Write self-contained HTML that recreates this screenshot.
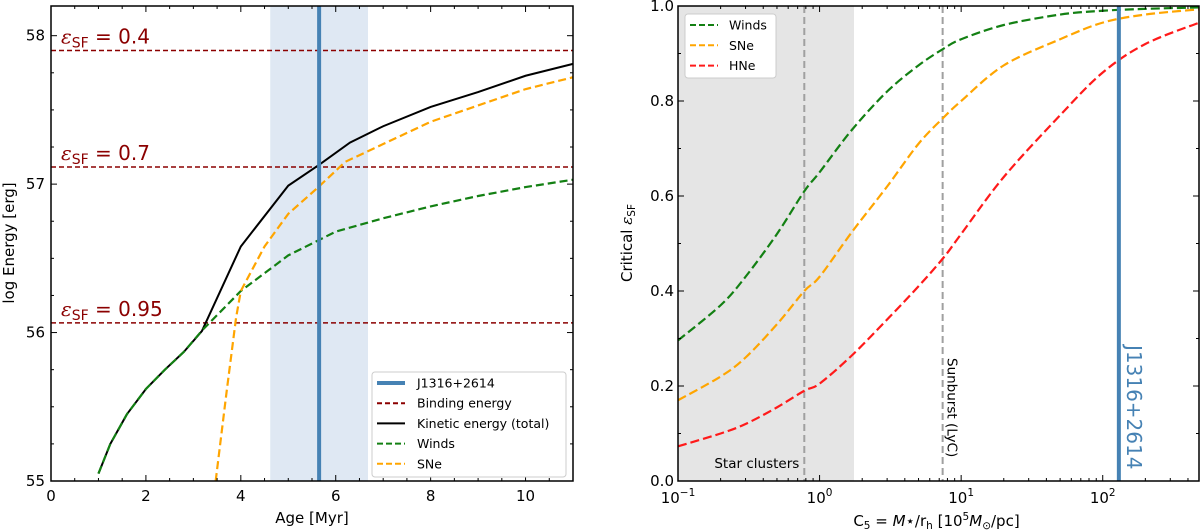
<!DOCTYPE html>
<html><head><meta charset="utf-8"><style>
html,body{margin:0;padding:0;background:#fff;}
svg{display:block;font-family:"DejaVu Sans","Liberation Sans",sans-serif;}
</style></head><body>
<svg id="fig" width="1200" height="532" viewBox="0 0 1200 532" xmlns="http://www.w3.org/2000/svg"></svg>
<script>
// ---- Left panel data ----
const ageWinds = [1,1.25,1.6,2,2.4,2.8,3.2,4,5,6,7,8,9,10,11];
const eWinds = [55.05,55.25,55.45,55.62,55.75,55.87,56.02,56.28,56.52,56.68,56.77,56.85,56.92,56.98,57.03];
const ageKin = [1,1.25,1.6,2,2.4,2.8,3.18,4,5,5.65,6.3,7,8,9,10,11];
const eKin = [55.05,55.25,55.45,55.62,55.75,55.87,56.01,56.58,56.99,57.13,57.28,57.39,57.52,57.62,57.73,57.81];
const ageSNe = [3.47,3.7,3.9,4,4.5,5,5.6,6.2,7,8,9,10,11];
const eSNe = [55.0,55.6,56.1,56.28,56.58,56.8,56.97,57.15,57.27,57.42,57.53,57.64,57.72];
const bindE = [57.90,57.115,56.065];
const bindLabels = ["0.4","0.7","0.95"];
const ageObs = 5.65;
const ageBand = [4.62,6.68];
const xTicksL = [0,2,4,6,8,10];
const yTicksL = [55,56,57,58];
// ---- Right panel data ----
const c5 = [0.1,0.2,0.3,0.5,0.78,1,1.7,3,5,7.5,10,20,50,100,200,480];
const critWinds = [0.296,0.37,0.43,0.52,0.61,0.65,0.74,0.82,0.875,0.91,0.93,0.96,0.982,0.99,0.994,0.997];
const critSNe = [0.17,0.22,0.26,0.33,0.40,0.43,0.525,0.62,0.71,0.765,0.80,0.875,0.93,0.965,0.982,0.993];
const critHNe = [0.073,0.10,0.12,0.155,0.19,0.205,0.265,0.34,0.41,0.47,0.52,0.64,0.77,0.86,0.92,0.965];
const c5Clusters = 0.78;
const c5Sunburst = 7.4;
const c5ClusterBand = [0.1,1.75];
const c5Obs = 130;
const yTicksR = [0,0.2,0.4,0.6,0.8,1.0];
const xDecadesR = [-1,0,1,2];

const NS="http://www.w3.org/2000/svg";
const svg=document.getElementById('fig');
function el(tag,attrs,parent){const e=document.createElementNS(NS,tag);for(const k in attrs)e.setAttribute(k,attrs[k]);(parent||svg).appendChild(e);return e;}

const L={x0:51,x1:573,y0:481,y1:6,xmin:0,xmax:11,ymin:55,ymax:58.2};
const lx=v=>L.x0+(v-L.xmin)/(L.xmax-L.xmin)*(L.x1-L.x0);
const ly=v=>L.y0-(v-L.ymin)/(L.ymax-L.ymin)*(L.y0-L.y1);
const R={x0:678,x1:1199,y0:481,y1:6,lmin:-1,lmax:2.68};
const rx=v=>R.x0+(Math.log10(v)-R.lmin)/(R.lmax-R.lmin)*(R.x1-R.x0);
const ry=v=>R.y0-v*(R.y0-R.y1);

const gL=el('g',{});

let e;
e=el('rect',{x:lx(ageBand[0]),y:L.y1,width:lx(ageBand[1])-lx(ageBand[0]),height:L.y0-L.y1,fill:'#dfe8f3'},gL);

bindE.forEach((v,i)=>{
  const l=el('line',{x1:L.x0,x2:L.x1,y1:ly(v),y2:ly(v),stroke:'#8b0000','stroke-width':1.5,'stroke-dasharray':'5,3'},gL);
  
  const t=el('text',{x:L.x0+10,y:ly(v)-7,'font-size':20,fill:'#8b0000'},gL);
  
  t.innerHTML='<tspan font-style="italic" font-family="DejaVu Serif,serif">ε</tspan><tspan font-size="14" dy="4">SF</tspan><tspan dy="-4"> = '+bindLabels[i]+'</tspan>';
});
function poly(xs,ys,fx,fy,color,dash,w,name,parent){
  const p=el('polyline',{points:xs.map((x,i)=>fx(x)+','+fy(ys[i])).join(' '),fill:'none',stroke:color,'stroke-width':w,'stroke-dasharray':dash||'none'},parent);
  return p;
}
function smooth(xs,ys,fx,fy,color,dash,w,name,parent){
  const P=xs.map((x,i)=>[fx(x),fy(ys[i])]);
  let d='M'+P[0][0]+','+P[0][1];
  for(let i=0;i<P.length-1;i++){
    const p0=P[Math.max(0,i-1)],p1=P[i],p2=P[i+1],p3=P[Math.min(P.length-1,i+2)];
    const c1=[p1[0]+(p2[0]-p0[0])/6,p1[1]+(p2[1]-p0[1])/6],c2=[p2[0]-(p3[0]-p1[0])/6,p2[1]-(p3[1]-p1[1])/6];
    d+=' C'+c1[0]+','+c1[1]+' '+c2[0]+','+c2[1]+' '+p2[0]+','+p2[1];
  }
  const p=el('path',{d,fill:'none',stroke:color,'stroke-width':w,'stroke-dasharray':dash},parent);
  return p;
}
poly(ageKin,eKin,lx,ly,'#000','',2,'kinetic-energy-line',gL);
poly(ageWinds,eWinds,lx,ly,'#138013','8,4',2.2,'winds-line',gL);
poly(ageSNe,eSNe,lx,ly,'#ffa500','8,4',2.2,'sne-line',gL);
e=el('line',{x1:lx(ageObs),x2:lx(ageObs),y1:L.y1,y2:L.y0,stroke:'#4682b4','stroke-width':4},gL);


function frame(g,x0,y0,x1,y1){const r=el('rect',{x:x0,y:y1,width:x1-x0,height:y0-y1,fill:'none',stroke:'#000','stroke-width':1.5},g);}
frame(gL,L.x0,L.y0,L.x1,L.y1);
function tk(g,x1,y1,x2,y2){el('line',{x1,y1,x2,y2,stroke:'#000','stroke-width':1},g);}
for(let v=0;v<=11.001;v+=0.5){const x=lx(v),big=Math.abs(v-Math.round(v/2)*2)<1e-6;const s=big?6:3;tk(gL,x,L.y0,x,L.y0-s);tk(gL,x,L.y1,x,L.y1+s);}
for(let v=55;v<=58.2;v+=0.25){const y=ly(v),big=Math.abs(v-Math.round(v))<1e-6;const s=big?6:3;tk(gL,L.x0,y,L.x0+s,y);tk(gL,L.x1,y,L.x1-s,y);}
xTicksL.forEach(v=>{const t=el('text',{x:lx(v),y:L.y0+20,'font-size':15,'text-anchor':'middle'},gL);t.textContent=v;});
yTicksL.forEach(v=>{const t=el('text',{x:L.x0-6,y:ly(v)+5,'font-size':15,'text-anchor':'end'},gL);t.textContent=v;});
e=el('text',{x:(L.x0+L.x1)/2,y:523,'font-size':15,'text-anchor':'middle'},gL);e.textContent='Age [Myr]';
e=el('text',{x:0,y:0,'font-size':15,'text-anchor':'middle',transform:'translate(14,243) rotate(-90)'},gL);e.textContent='log Energy [erg]';
const lg=el('g',{},gL);
el('rect',{x:372,y:372,width:194,height:105,fill:'#fff',stroke:'#ccc','stroke-width':1,rx:3},lg);
[['J1316+2614','#4682b4','',4],['Binding energy','#8b0000','5,3',2],['Kinetic energy (total)','#000','',2],['Winds','#138013','6,3',2],['SNe','#ffa500','6,3',2]].forEach((d,i)=>{
  const y=383+i*20.2;
  el('line',{x1:377,x2:405,y1:y,y2:y,stroke:d[1],'stroke-width':d[3],'stroke-dasharray':d[2]||'none'},lg);
  const t=el('text',{x:417,y:y+4.5,'font-size':12.5},lg);t.textContent=d[0];
});

const gR=el('g',{});
e=el('rect',{x:rx(c5ClusterBand[0]),y:R.y1,width:rx(c5ClusterBand[1])-rx(c5ClusterBand[0]),height:R.y0-R.y1,fill:'#e5e5e5'},gR);

[c5Clusters,c5Sunburst].forEach(v=>{const l=el('line',{x1:rx(v),x2:rx(v),y1:R.y1,y2:R.y0,stroke:'#a0a0a0','stroke-width':2,'stroke-dasharray':'7,4'},gR);});
e=el('text',{x:rx(c5Clusters)-5,y:468,'font-size':13.5,'text-anchor':'end'},gR);e.textContent='Star clusters';
e=el('text',{x:0,y:0,'font-size':13.5,transform:`translate(${rx(c5Sunburst)+5},358) rotate(90)`},gR);e.textContent='Sunburst (LyC)';
smooth(c5,critHNe,rx,ry,'#ff1a1a','9,4',2.2,'hne-curve',gR);
smooth(c5,critSNe,rx,ry,'#ffa500','9,4',2.2,'sne-curve',gR);
smooth(c5,critWinds,rx,ry,'#138013','9,4',2.2,'winds-curve',gR);
e=el('line',{x1:rx(c5Obs),x2:rx(c5Obs),y1:R.y1,y2:R.y0,stroke:'#4682b4','stroke-width':4},gR);
e=el('text',{x:0,y:0,'font-size':20,fill:'#4682b4',transform:`translate(${rx(c5Obs)+8},345) rotate(90)`},gR);e.textContent='J1316+2614';
frame(gR,R.x0,R.y0,R.x1,R.y1);
for(let d=-1;d<=2;d++){for(let m=1;m<=9;m++){const v=m*Math.pow(10,d);if(Math.log10(v)>R.lmax)continue;const x=rx(v),s=m===1?6:3;tk(gR,x,R.y0,x,R.y0-s);tk(gR,x,R.y1,x,R.y1+s);}}
for(let i=0;i<=10;i++){const v=i/10,y=ry(v),s=i%2===0?6:3;tk(gR,R.x0,y,R.x0+s,y);tk(gR,R.x1,y,R.x1-s,y);}
xDecadesR.forEach(d=>{const t=el('text',{x:rx(Math.pow(10,d)),y:R.y0+22,'font-size':15,'text-anchor':'middle'},gR);t.innerHTML='10<tspan font-size="10.5" dy="-7">'+(d<0?'−1':d)+'</tspan>';});
yTicksR.forEach(v=>{const t=el('text',{x:R.x0-4,y:ry(v)+5,'font-size':15,'text-anchor':'end'},gR);t.textContent=v.toFixed(1);});
e=el('text',{x:(R.x0+R.x1)/2-2,y:526,'font-size':15,'text-anchor':'middle'},gR);
e.innerHTML='C<tspan font-size="10.5" dy="3">5</tspan><tspan dy="-3"> = </tspan><tspan font-style="italic">M</tspan>⋆/r<tspan font-size="10.5" dy="3">h</tspan><tspan dy="-3"> [10</tspan><tspan font-size="10.5" dy="-6">5</tspan><tspan dy="6" font-style="italic">M</tspan><tspan font-size="10.5" dy="3">⊙</tspan><tspan dy="-3">/pc]</tspan>';

e=el('text',{x:0,y:0,'font-size':15,'text-anchor':'middle',transform:'translate(632,243) rotate(-90)'},gR);
e.innerHTML='Critical <tspan font-style="italic" font-family="DejaVu Serif,serif">ε</tspan><tspan font-size="10.5" dy="3">SF</tspan>';

const rg=el('g',{},gR);
el('rect',{x:685,y:14,width:91,height:64,fill:'#fff',stroke:'#ccc','stroke-width':1,rx:3},rg);
[['Winds','#138013'],['SNe','#ffa500'],['HNe','#ff1a1a']].forEach((d,i)=>{
  const y=25+i*20.3;
  el('line',{x1:690,x2:718,y1:y,y2:y,stroke:d[1],'stroke-width':2,'stroke-dasharray':'6,3'},rg);
  const t=el('text',{x:729,y:y+4.5,'font-size':12.5},rg);t.textContent=d[0];
});
</script>
</body></html>
